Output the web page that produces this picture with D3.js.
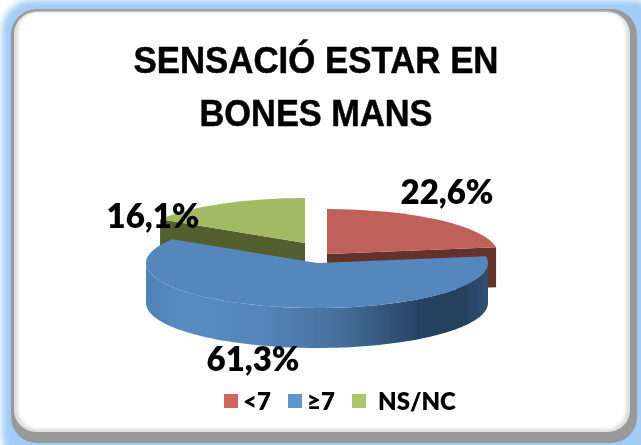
<!DOCTYPE html>
<html><head><meta charset="utf-8">
<script src="https://cdn.jsdelivr.net/npm/d3@7"></script>
<style>html,body{margin:0;padding:0;background:#fff}svg{display:block}</style>
</head><body><div id="c"></div>
<script>
const categories = ["<7", "≥7", "NS/NC"];
const values = [22.6, 61.3, 16.1];
const titleLines = ["SENSACIÓ ESTAR EN", "BONES MANS"];
const titleWidths = [365, 233];
const topColors = ["#c0605a", "#5587bd", "#a2ba63"];
const cutColors = ["#63302a", "#2f5072", "#535f2d"];
const legendColors = ["#cf6660", "#6095cc", "#adc66b"];
const explodeX = [10, 0, -12];
const explodeY = [-9, 0, -20];
const labelX = [447, 253, 153];
const labelY = [204, 371, 228];
const legendSwatchX = [224, 288, 352];
const legendTextX = [243, 307, 378];

const W = 641, H = 445, cx = 317, cy = 263, rx = 171, ry = 45, depth = 40;
const svg = d3.select("#c").append("svg").attr("width", W).attr("height", H);
const defs = svg.append("defs");
const blur = (id, s) => defs.append("filter").attr("id", id)
  .attr("x", "-10%").attr("y", "-10%").attr("width", "120%").attr("height", "120%")
  .append("feGaussianBlur").attr("stdDeviation", s);
blur("b5", 3); blur("b2", 1.6); blur("b0", 0.45); blur("b1", 0.5);

const g1 = defs.append("linearGradient").attr("id", "rim")
  .attr("gradientUnits", "userSpaceOnUse").attr("x1", 146).attr("x2", 488).attr("y1", 0).attr("y2", 0);
[[0, "#4f81b5"], [0.12, "#5a8dc3"], [0.35, "#5384b8"], [0.58, "#456d98"], [0.8, "#274263"], [0.92, "#26405f"], [1, "#2f5072"]]
  .forEach(d => g1.append("stop").attr("offset", d[0]).attr("stop-color", d[1]));

// frame
svg.append("rect").attr("x", 2).attr("y", 0).attr("width", 660).attr("height", 465).attr("rx", 30)
  .attr("fill", "#a3cdf6").attr("filter", "url(#b5)");
svg.append("rect").attr("x", 11).attr("y", 9).attr("width", 626).attr("height", 434).attr("rx", 26)
  .attr("fill", "#999");
svg.append("rect").attr("x", 14).attr("y", 12).attr("width", 616).attr("height", 420).attr("rx", 22)
  .attr("fill", "#dedede").attr("filter", "url(#b0)");
svg.append("rect").attr("x", 18).attr("y", 12).attr("width", 608).attr("height", 417).attr("rx", 20)
  .attr("fill", "#fff").attr("filter", "url(#b2)");

// pie
const pie = d3.pie().sort(null).value(d => d)(values);
const arc = d3.arc().innerRadius(0).outerRadius(rx);
const rimPt = (a, i) => [cx + explodeX[i] + rx * Math.sin(a), cy + explodeY[i] - ry * Math.cos(a)];
const chart = svg.append("g").attr("filter", "url(#b0)");
const line = d3.line();

[2, 0, 1].forEach(i => {
  const p = pie[i];
  const g = chart.append("g");
  const ap = [cx + explodeX[i], cy + explodeY[i]];
  [p.startAngle, p.endAngle].forEach(a => {
    if (Math.abs(Math.sin(a)) < 0.05) return;
    if (i === 1) return;
    const r = rimPt(a, i);
    g.append("path").attr("fill", cutColors[i]).attr("d", line([
      ap, r, [r[0], r[1] + depth], [ap[0], ap[1] + depth]
    ]) + "Z");
  });
  const a0 = Math.max(p.startAngle, Math.PI / 2), a1 = Math.min(p.endAngle, 3 * Math.PI / 2);
  if (a1 > a0) {
    const n = 80, top = d3.range(n + 1).map(k => rimPt(a0 + (a1 - a0) * k / n, i));
    const bot = top.map(q => [q[0], q[1] + depth]).reverse();
    g.append("path").attr("fill", "url(#rim)").attr("d", line(top.concat(bot)) + "Z");
  }
  g.append("path").attr("d", arc(p)).attr("fill", topColors[i])
    .attr("transform", `translate(${ap[0]},${ap[1]}) scale(1,${ry / rx})`);
});

// text
const titleFont = "'Liberation Sans',Arial,sans-serif";
const labelFont = "Lato,'Open Sans',sans-serif";
const fmt = d => d3.format(".1f")(d).replace(".", ",") + "%";
const tg = svg.append("g").attr("filter", "url(#b1)");
tg.selectAll(".t").data(titleLines).join("text").attr("class", "t")
  .attr("x", 316).attr("y", (d, i) => 73 + i * 53).attr("text-anchor", "middle")
  .attr("textLength", (d, i) => titleWidths[i]).attr("lengthAdjust", "spacingAndGlyphs")
  .attr("font-family", titleFont).attr("font-weight", 700).attr("font-size", 37)
  .attr("fill", "#000").attr("stroke", "#000").attr("stroke-width", 0.5).text(d => d);
tg.selectAll(".v").data(values).join("text").attr("class", "v")
  .attr("x", (d, i) => labelX[i]).attr("y", (d, i) => labelY[i]).attr("text-anchor", "middle")
  .attr("font-family", labelFont).attr("font-weight", 800).attr("font-size", 33)
  .attr("fill", "#000").text(fmt);

// legend
svg.selectAll(".s").data(categories).join("rect").attr("class", "s")
  .attr("x", (d, i) => legendSwatchX[i]).attr("y", 394).attr("width", 14).attr("height", 14)
  .attr("fill", (d, i) => legendColors[i]);
tg.selectAll(".l").data(categories).join("text").attr("class", "l")
  .attr("x", (d, i) => legendTextX[i]).attr("y", 410)
  .attr("font-family", labelFont).attr("font-weight", 800).attr("font-size", 24)
  .attr("fill", "#000").text(d => d);
</script></body></html>
